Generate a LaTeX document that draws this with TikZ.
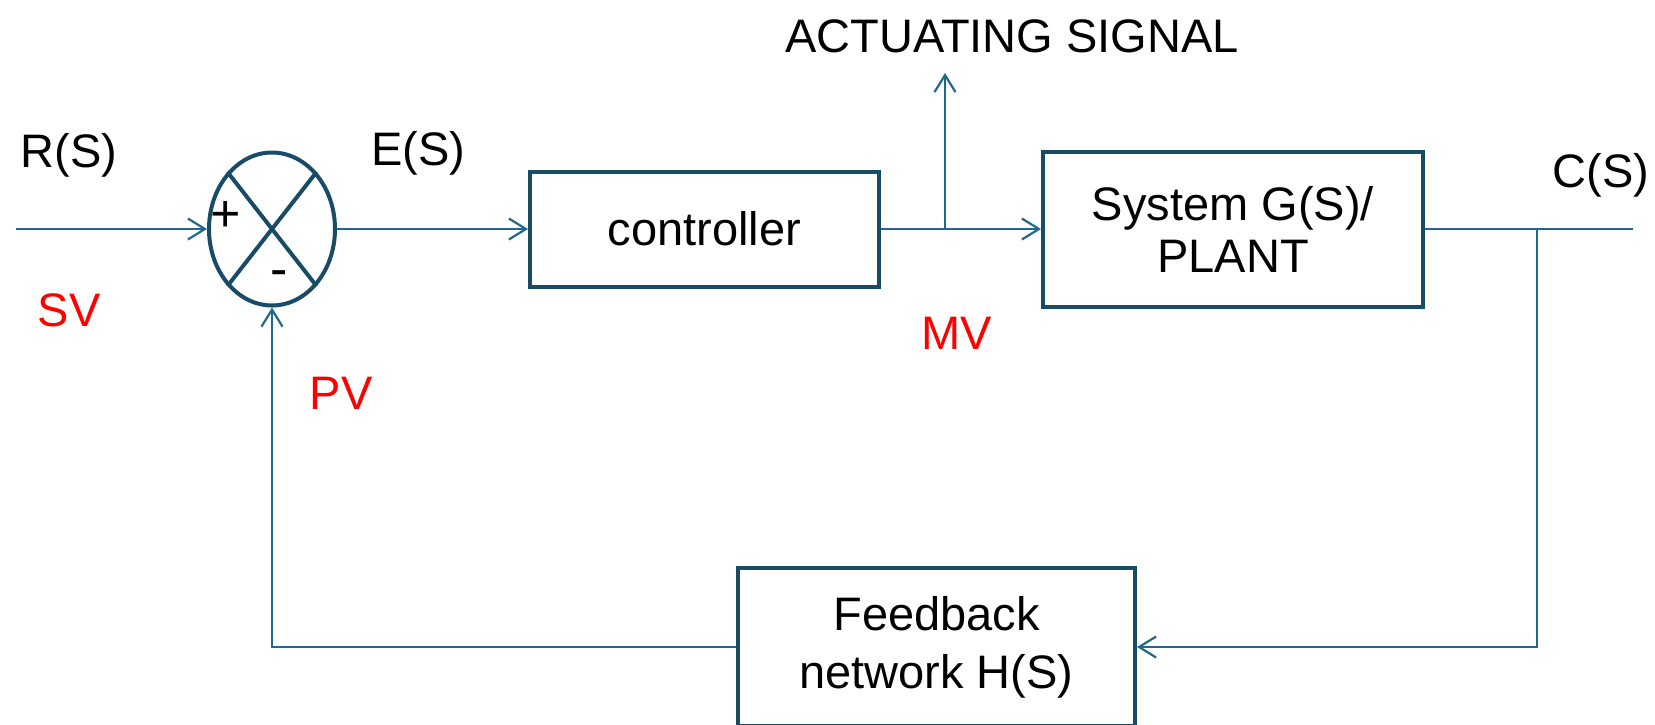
\documentclass[tikz,border=0pt]{standalone}
\usepackage{fontspec}
\setmainfont{Liberation Sans}
\usetikzlibrary{arrows.meta,shapes.geometric}
\definecolor{boxline}{RGB}{24,76,102}
\definecolor{wire}{RGB}{34,104,140}
\definecolor{tagred}{RGB}{255,0,0}

\begin{document}
\begin{tikzpicture}[x=0.5pt,y=-0.5pt,
  block/.style={draw=boxline, line width=2pt, rectangle, inner sep=0pt, align=center},
  conn/.style={wire, line width=1.1pt},
  arr/.style={conn, -{Straight Barb[length=8.5pt,width=10.5pt]}},
  lbl/.style={anchor=base, inner sep=0pt, font=\fontsize{23.5}{28}\selectfont},
  tag/.style={lbl, text=tagred},
  sign/.style={anchor=base, inner sep=0pt, font=\fontsize{26}{30}\selectfont}]
\useasboundingbox (0,0) rectangle (1655,724);

% Summing junction
\node[ellipse, draw=boxline, line width=2pt, inner sep=0pt,
      minimum width=63pt, minimum height=76.5pt] (sum) at (272,229) {};
\draw[boxline, line width=2pt] (sum.128) -- (sum.308) (sum.52) -- (sum.232);
\node[sign] (plus) at (226,231) {+};
\node[sign] (minus) at (279,286) {-};

% Blocks
\node[block, minimum width=174.5pt, minimum height=57.5pt,
      font=\fontsize{23.5}{26}\selectfont] (ctrl) at (704.5,229) {controller};
\node[block, minimum width=190pt, minimum height=77.5pt,
      font=\fontsize{23.5}{26}\selectfont] (plant) at (1233,229) {System G(S)/\\PLANT};
\node[block, minimum width=198.5pt, minimum height=79pt,
      font=\fontsize{23.5}{29}\selectfont] (fb) at (936.5,647) {Feedback\\network H(S)};

% Forward path
\coordinate (in) at (16,229);
\coordinate (tap) at (945,229);
\coordinate (act) at (945,73);
\coordinate (out) at (1633,229);
\coordinate (ctap) at (1537,229);
\draw[arr] (in) -- (sum.west);
\draw[arr] (sum.east) -- (ctrl.west);
\draw[arr] (ctrl.east) -- (plant.west);
\draw[arr] (tap) -- (act);
\draw[conn] (plant.east) -- (out);

% Feedback path
\draw[arr] (ctap) |- (fb.east);
\draw[arr] (fb.west) -| (sum.south);

% Signal labels
\node[lbl] (rs) at (69,167) {R(S)};
\node[lbl] (es) at (418,165) {E(S)};
\node[lbl] (cs) at (1601,187) {C(S)};
\node[lbl] (actsig) at (1012,52) {ACTUATING SIGNAL};
\node[tag] (sv) at (69,326) {SV};
\node[tag] (pv) at (341,409) {PV};
\node[tag] (mv) at (957,349) {MV};
\end{tikzpicture}
\end{document}
